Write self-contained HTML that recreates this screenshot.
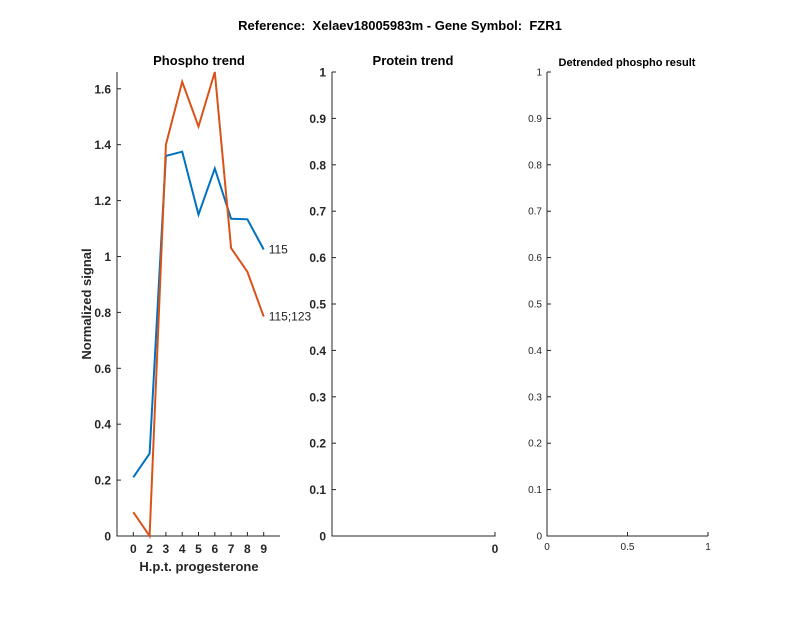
<!DOCTYPE html>
<html><head><meta charset="utf-8"><style>
html,body{margin:0;padding:0;background:#fff;}
svg{display:block;font-family:"Liberation Sans",sans-serif;}
</style></head><body>
<svg id="chart" width="800" height="618" viewBox="0 0 800 618">
<text x="400" y="30" text-anchor="middle" font-size="13" font-weight="bold" style="white-space:pre">Reference:  Xelaev18005983m - Gene Symbol:  FZR1</text>
<g id="p1"></g>
<g id="p2"></g>
<g id="p3"></g>
</svg>
<script>
const categories = ["0","2","3","4","5","6","7","8","9"];
const series115 = [0.21,0.295,1.36,1.375,1.15,1.315,1.135,1.133,1.025];
const series115_123 = [0.085,0,1.40,1.625,1.465,1.66,1.03,0.945,0.785];
const yTicks1 = [0,0.2,0.4,0.6,0.8,1,1.2,1.4,1.6];
const yTicks01 = [0,0.1,0.2,0.3,0.4,0.5,0.6,0.7,0.8,0.9,1];
const xTicks3 = [0,0.5,1];
const NS="http://www.w3.org/2000/svg";
function mk(p,tag,a,txt){const e=document.createElementNS(NS,tag);for(const k in a)e.setAttribute(k,a[k]);if(txt!==undefined)e.textContent=txt;p.appendChild(e);return e;}
const AX="#262626";
// Panel 1
const p1=document.getElementById('p1');
const L1=117,R1=280,T1=72,B1=536,ymax1=1.66;
const x1=i=>L1+(i+1)*(R1-L1)/10;
const y1=v=>B1-v/ymax1*(B1-T1);
let e;
e=mk(p1,'path',{d:`M${L1},${T1}V${B1}H${R1}`,fill:'none',stroke:AX,'stroke-width':1});


yTicks1.forEach(v=>{
  mk(p1,'line',{x1:L1,x2:L1+4,y1:y1(v),y2:y1(v),stroke:AX});
  e=mk(p1,'text',{x:L1-6,y:y1(v)+4.5,'text-anchor':'end','font-size':12,'font-weight':'bold',fill:AX},String(v));
  
  
});
categories.forEach((c,i)=>{
  mk(p1,'line',{x1:x1(i),x2:x1(i),y1:B1,y2:B1-4,stroke:AX});
  e=mk(p1,'text',{x:x1(i),y:B1+17,'text-anchor':'middle','font-size':12,'font-weight':'bold',fill:AX},c);
  
  
});
e=mk(p1,'text',{x:199,y:65,'text-anchor':'middle','font-size':13,'font-weight':'bold'},'Phospho trend');


e=mk(p1,'text',{x:199,y:571,'text-anchor':'middle','font-size':13,'font-weight':'bold',fill:AX},'H.p.t. progesterone');


e=mk(p1,'text',{x:0,y:0,transform:'translate(91,304) rotate(-90)','text-anchor':'middle','font-size':13,'font-weight':'bold',fill:AX},'Normalized signal');


function line(vals,col,name,label){
  e=mk(p1,'polyline',{points:vals.map((v,i)=>x1(i)+','+y1(v)).join(' '),fill:'none',stroke:col,'stroke-width':2});
  
  
  const n=vals.length-1;
  e=mk(p1,'text',{x:x1(n)+5,y:y1(vals[n])+4,'font-size':12,fill:'#222'},label);
  
  
}
line(series115,'#0072BD','line-115','115');
line(series115_123,'#D95319','line-115-123','115;123');
// Panel 2
const p2=document.getElementById('p2');
const L2=332,R2=495,T2=72,B2=536;
const y2=v=>B2-v*(B2-T2);
e=mk(p2,'path',{d:`M${L2},${T2}V${B2}H${R2}V${B2-4}`,fill:'none',stroke:AX});


yTicks01.forEach(v=>{
  mk(p2,'line',{x1:L2,x2:L2+4,y1:y2(v),y2:y2(v),stroke:AX});
  e=mk(p2,'text',{x:L2-6,y:y2(v)+4.5,'text-anchor':'end','font-size':12,'font-weight':'bold',fill:AX},String(v));
  
  
});
e=mk(p2,'text',{x:R2,y:B2+17,'text-anchor':'middle','font-size':12,'font-weight':'bold',fill:AX},'0');


e=mk(p2,'text',{x:413,y:65,'text-anchor':'middle','font-size':13,'font-weight':'bold'},'Protein trend');


// Panel 3
const p3=document.getElementById('p3');
const L3=547,R3=708,T3=72,B3=536;
const y3=v=>B3-v*(B3-T3);
const x3=v=>L3+v*(R3-L3);
e=mk(p3,'path',{d:`M${L3},${T3}V${B3}H${R3}`,fill:'none',stroke:AX});


yTicks01.forEach(v=>{
  mk(p3,'line',{x1:L3,x2:L3+4,y1:y3(v),y2:y3(v),stroke:AX});
  e=mk(p3,'text',{x:L3-5,y:y3(v)+3.5,'text-anchor':'end','font-size':10,fill:AX},String(v));
  
  
});
xTicks3.forEach(v=>{
  mk(p3,'line',{x1:x3(v),x2:x3(v),y1:B3,y2:B3-4,stroke:AX});
  e=mk(p3,'text',{x:x3(v),y:B3+14,'text-anchor':'middle','font-size':10,fill:AX},String(v));
  
  
});
e=mk(p3,'text',{x:627,y:66,'text-anchor':'middle','font-size':11,'font-weight':'bold'},'Detrended phospho result');


</script>
</body></html>
